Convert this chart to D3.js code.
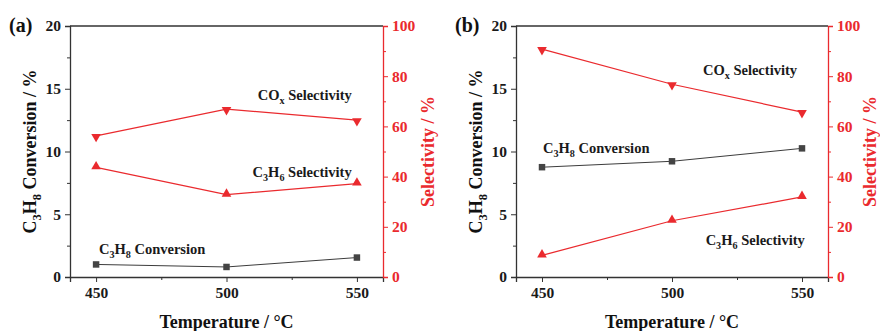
<!DOCTYPE html>
<html><head><meta charset="utf-8">
<script src="https://cdn.jsdelivr.net/npm/d3@7/dist/d3.min.js"></script>
<style>
html,body{margin:0;padding:0;background:#fff;}
svg text{font-family:"Liberation Serif","Times New Roman",serif;font-weight:bold;}
</style></head>
<body>
<svg id="chart" width="880" height="331"></svg>
<script>
const temperatures = [450, 500, 550];
const xTicks = [450, 500, 550];
const leftTicks = [0, 5, 10, 15, 20];
const rightTicks = [0, 20, 40, 60, 80, 100];

const convA = [1.0, 0.8, 1.55];
const coxA = [56.2, 66.9, 62.5];
const c3h6A = [43.7, 32.8, 37.2];

const convB = [8.75, 9.22, 10.25];
const coxB = [90.8, 76.8, 65.7];
const c3h6B = [8.6, 22.4, 31.9];

const panels = [
  {tag:"(a)", left:70, right:383, rOff:51, conv:convA, cox:coxA, c3h6:c3h6A,
   labels:{cox:[530, 70.5], c3h6:[529, 39.8], conv:[451.1, 1.83]}},
  {tag:"(b)", left:516, right:828, rOff:48, conv:convB, cox:coxB, c3h6:c3h6B,
   labels:{cox:[530, 80.5], c3h6:[532, 12.7], conv:[450.4, 9.88]}}
];

const RED = "#ea2a2e";
const GRAY = "#3c3c3c";
const plotTop = 26, plotBottom = 277;
const svg = d3.select("#chart");

function richText(g, parts, size){
  let shifted = false;
  parts.forEach(p=>{
    if(typeof p === "string"){
      const t = g.append("tspan").text(p);
      if(shifted){ t.attr("dy", -size*0.25); shifted=false; }
    } else {
      g.append("tspan").attr("font-size", size*0.7).attr("dy", size*0.25).text(p.sub);
      shifted = true;
    }
  });
}

panels.forEach(P=>{
  const x = d3.scaleLinear().domain([440,560]).range([P.left, P.right]);
  const yL = d3.scaleLinear().domain([0,20]).range([plotBottom, plotTop]);
  const yR = d3.scaleLinear().domain([0,100]).range([plotBottom, plotTop]);
  const g = svg.append("g");

  g.append("line").attr("x1",P.left).attr("x2",P.right).attr("y1",plotTop).attr("y2",plotTop)
    .attr("stroke","#333").attr("stroke-width",1.3);

  const xa = g.append("g").attr("transform",`translate(0,${plotBottom})`)
    .call(d3.axisBottom(x).tickValues(xTicks).tickSize(5).tickPadding(5).tickFormat(d3.format("d")));
  g.append("g").attr("transform",`translate(0,${plotBottom})`)
    .call(d3.axisBottom(x).tickValues([475,525]).tickSize(3).tickFormat(""))
    .call(s=>s.select(".domain").remove());
  xa.select(".domain").attr("stroke","#333").attr("stroke-width",1.3);

  const la = g.append("g").attr("transform",`translate(${P.left},0)`)
    .call(d3.axisLeft(yL).tickValues(leftTicks).tickSize(5).tickPadding(4));
  g.append("g").attr("transform",`translate(${P.left},0)`)
    .call(d3.axisLeft(yL).tickValues([2.5,7.5,12.5,17.5]).tickSize(3).tickFormat(""))
    .call(s=>s.select(".domain").remove());
  la.select(".domain").attr("stroke","#333").attr("stroke-width",1.3);

  const ra = g.append("g").attr("transform",`translate(${P.right},0)`)
    .call(d3.axisRight(yR).tickValues(rightTicks).tickSize(5).tickPadding(4));
  g.append("g").attr("transform",`translate(${P.right},0)`)
    .call(d3.axisRight(yR).tickValues([10,30,50,70,90]).tickSize(3).tickFormat(""))
    .call(s=>s.select(".domain").remove()).selectAll("line").attr("stroke",RED);
  ra.select(".domain").attr("stroke",RED).attr("stroke-width",1.3);
  ra.selectAll(".tick line").attr("stroke",RED);
  ra.selectAll(".tick text").attr("fill",RED);

  g.selectAll(".tick text").attr("font-size",15.5).attr("font-family","Liberation Serif, serif").attr("font-weight","bold");
  xa.selectAll(".tick text").attr("fill","#1a1a1a");
  la.selectAll(".tick text").attr("fill","#1a1a1a");
  g.selectAll(".tick line").filter(function(){return d3.select(this).attr("stroke")!==RED;}).attr("stroke","#333");

  const mk = (arr, ys) => d3.line().x((d,i)=>x(temperatures[i])).y(d=>ys(d))(arr);
  g.append("path").attr("d",mk(P.conv,yL)).attr("fill","none").attr("stroke",GRAY).attr("stroke-width",1);
  g.append("path").attr("d",mk(P.cox,yR)).attr("fill","none").attr("stroke",RED).attr("stroke-width",1.2);
  g.append("path").attr("d",mk(P.c3h6,yR)).attr("fill","none").attr("stroke",RED).attr("stroke-width",1.2);

  const sq = d3.symbol().type(d3.symbolSquare).size(42);
  const tri = d3.symbol().type(d3.symbolTriangle).size(40);
  g.selectAll(null).data(P.conv).join("path").attr("d",sq)
    .attr("transform",(d,i)=>`translate(${x(temperatures[i])},${yL(d)})`).attr("fill","#444");
  g.selectAll(null).data(P.cox).join("path").attr("d",tri)
    .attr("transform",(d,i)=>`translate(${x(temperatures[i])},${yR(d)+0.8}) rotate(180)`).attr("fill",RED);
  g.selectAll(null).data(P.c3h6).join("path").attr("d",tri)
    .attr("transform",(d,i)=>`translate(${x(temperatures[i])},${yR(d)-0.8})`).attr("fill",RED);

  const fs = 14.5;
  const t1 = g.append("text").attr("x",x(P.labels.cox[0])).attr("y",yR(P.labels.cox[1])).attr("font-size",fs).attr("fill","#1a1a1a").attr("text-anchor","middle");
  richText(t1, ["CO",{sub:"x"}," Selectivity"], fs);
  const t2 = g.append("text").attr("x",x(P.labels.c3h6[0])).attr("y",yR(P.labels.c3h6[1])).attr("font-size",fs).attr("fill","#1a1a1a").attr("text-anchor","middle");
  richText(t2, ["C",{sub:"3"},"H",{sub:"6"}," Selectivity"], fs);
  const t3 = g.append("text").attr("x",x(P.labels.conv[0])).attr("y",yL(P.labels.conv[1])).attr("font-size",fs).attr("fill","#1a1a1a").attr("text-anchor","start");
  richText(t3, ["C",{sub:"3"},"H",{sub:"8"}," Conversion"], fs);

  const tfs = 18;
  const lt = g.append("text").attr("transform",`translate(${P.left-34},${(plotTop+plotBottom)/2}) rotate(-90)`)
    .attr("text-anchor","middle").attr("font-size",tfs).attr("fill","#111");
  richText(lt, ["C",{sub:"3"},"H",{sub:"8"}," Conversion / %"], tfs);
  g.append("text").attr("transform",`translate(${P.right+P.rOff},${(plotTop+plotBottom)/2}) rotate(-90)`)
    .attr("text-anchor","middle").attr("font-size",tfs).attr("fill",RED).text("Selectivity / %");
  g.append("text").attr("x",(P.left+P.right)/2).attr("y",328).attr("text-anchor","middle")
    .attr("font-size",tfs).attr("fill","#111").text("Temperature / °C");
  g.append("text").attr("x",P.left-61).attr("y",32).attr("font-size",20).attr("fill","#111").text(P.tag);
});
</script>
</body></html>
